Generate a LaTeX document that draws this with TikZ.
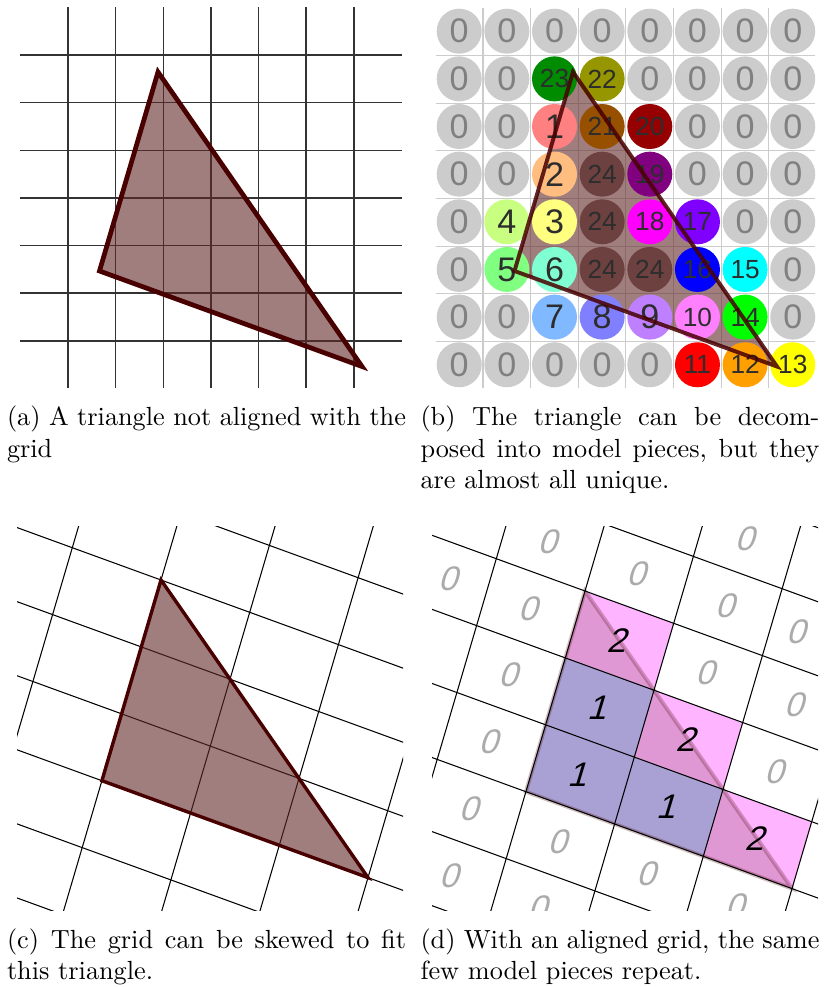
\documentclass[tikz,border=0pt]{standalone}
\usepackage{fontspec}
\newfontfamily\digitfont{Liberation Sans}
\definecolor{trifill}{RGB}{97,40,40}
\definecolor{triline}{RGB}{72,0,0}
\definecolor{zerotext}{RGB}{128,128,128}
\definecolor{piecetext}{RGB}{45,45,45}
\definecolor{c0}{RGB}{204,204,204}
\definecolor{c1}{RGB}{255,128,128}
\definecolor{c2}{RGB}{255,190,128}
\definecolor{c3}{RGB}{255,255,128}
\definecolor{c4}{RGB}{200,255,128}
\definecolor{c5}{RGB}{128,255,128}
\definecolor{c6}{RGB}{128,255,210}
\definecolor{c7}{RGB}{128,185,255}
\definecolor{c8}{RGB}{128,128,255}
\definecolor{c9}{RGB}{190,128,255}
\definecolor{c10}{RGB}{255,128,255}
\definecolor{c11}{RGB}{255,0,0}
\definecolor{c12}{RGB}{255,160,0}
\definecolor{c13}{RGB}{255,255,0}
\definecolor{c14}{RGB}{0,255,0}
\definecolor{c15}{RGB}{0,255,255}
\definecolor{c16}{RGB}{0,0,255}
\definecolor{c17}{RGB}{128,0,255}
\definecolor{c18}{RGB}{255,0,255}
\definecolor{c19}{RGB}{128,0,128}
\definecolor{c20}{RGB}{150,0,0}
\definecolor{c21}{RGB}{150,80,0}
\definecolor{c22}{RGB}{150,150,0}
\definecolor{c23}{RGB}{0,140,0}
\definecolor{c24}{RGB}{110,65,65}
\definecolor{pinkcell}{RGB}{255,180,255}
\definecolor{bluecell}{RGB}{188,190,255}
\begin{document}
\begin{tikzpicture}[x=0.381pt,y=-0.381pt,
  gridline/.style={black!80,line width=.6pt},
  softgrid/.style={black!20,line width=.4pt},
  skewline/.style={black,line width=.4pt},
  tri/.style={fill=trifill,fill opacity=.6,draw=triline,line width=1.8pt},
  disc/.style={circle,minimum size=17.15pt,inner sep=0pt,font=\digitfont\fontsize{13}{13}\selectfont},
  lbl/.style={inner sep=0pt,xslant=.3,font=\digitfont\fontsize{13}{13}\selectfont},
  subcap/.style={text width=152pt,align=justify,inner sep=0pt,anchor=base west}]
 \useasboundingbox (0,0) rectangle (830,987);
 % (a) plain grid
 \foreach \k in {0,...,6}
   {\draw[gridline] ({68+47.65*\k},7) -- ({68+47.65*\k},388);
    \draw[gridline] (20,{55+47.65*\k}) -- (402,{55+47.65*\k});}
 \coordinate (ta) at (158,72);
 \coordinate (la) at (99.5,271);
 \coordinate (ra) at (362,366.5);
 \draw[tri] (ta) -- (la) -- (ra) -- cycle;
 % (b) one piece per cell
 \begin{scope}[shift={(415,0)}]
 \foreach \k in {0,...,6}
   {\draw[softgrid] ({68+47.65*\k},8) -- ({68+47.65*\k},388);
    \draw[softgrid] (20.5,{55.5+47.65*\k}) -- (400,{55.5+47.65*\k});}
 \coordinate (tb) at (158,72);
 \coordinate (lb) at (99.5,271);
 \coordinate (rb) at (362,366.5);
 \end{scope}
 \fill[trifill,fill opacity=.6] (tb) -- (lb) -- (rb) -- cycle;
 \foreach \row [count=\r from 0] in {{0,0,0,0,0,0,0,0},{0,0,23,22,0,0,0,0},
     {0,0,1,21,20,0,0,0},{0,0,2,24,19,0,0,0},{0,4,3,24,18,17,0,0},
     {0,5,6,24,24,16,15,0},{0,0,7,8,9,10,14,0},{0,0,0,0,0,11,12,13}}
   \foreach \n [count=\c from 0] in \row
     \node[disc,fill=c\n] (n\r\c) at ({459.2+47.65*\c},{31.2+47.65*\r})
       {\ifnum\n=0 \color{zerotext}\else\color{piecetext}\fi
        \ifnum\n>9 \fontsize{10}{10}\selectfont\fi\n};
 \draw[triline,draw opacity=.85,line width=1.5pt] (tb) -- (lb) -- (rb) -- cycle;
 % (c) skewed grid
 \begin{scope}
 \clip (17,526) rectangle (403,910);
 \begin{scope}[shift={(161,580)},x={(33.795pt,-12.306pt)},y={(-7.506pt,-25.489pt)}]
  \foreach \i in {-2,...,4} \draw[skewline] (\i,-3) -- (\i,7);
  \foreach \j in {-3,...,6} \draw[skewline] (-3,\j) -- (5,\j);
  \coordinate (tc) at (0,0);
  \coordinate (lc) at (0,3);
  \coordinate (rc) at (3,3);
 \end{scope}
 \end{scope}
 \draw[tri,line width=1.3pt] (tc) -- (lc) -- (rc) -- cycle;
 % (d) repeated pieces
 \begin{scope}
 \clip (432,526) rectangle (818,910);
 \begin{scope}[shift={(585,591)},x={(33.795pt,-12.306pt)},y={(-7.506pt,-25.489pt)}]
  \foreach \i/\j in {0/0,1/1,2/2}
    \fill[pinkcell] (\i,\j) -- ++(1,0) -- ++(0,1) -- ++(-1,0) -- cycle;
  \foreach \i/\j in {0/1,0/2,1/2}
    \fill[bluecell] (\i,\j) -- ++(1,0) -- ++(0,1) -- ++(-1,0) -- cycle;
  \coordinate (td) at (0,0);
  \coordinate (ld) at (0,3);
  \coordinate (rd) at (3,3);
  \filldraw[fill=trifill,fill opacity=.2,draw=triline,draw opacity=.25,line width=1.5pt]
    (td) -- (ld) -- (rd) -- cycle;
  \foreach \i in {-2,...,4} \draw[skewline] (\i,-3) -- (\i,7);
  \foreach \j in {-3,...,6} \draw[skewline] (-3,\j) -- (5,\j);
  \foreach \i/\j/\d in {0/0/2,0/1/1,1/1/2,0/2/1,1/2/1,2/2/2}
    \node[lbl] (m\i\j) at ({\i+.5},{\j+.5}) {\d};
  \foreach \p/\q [count=\k] in {-.5/-.5,-1.4/.5,.5/-.5,-.5/.5,1.5/-1.5,1.5/-.5,
      -.5/1.5,1.5/.5,2.3/-.5,-.5/2.5,2.5/.5,2.5/1.5,-.5/3.5,.5/3.5,1.5/3.5,
      -.5/4.5,.5/4.5,2.5/3.5}
    \node[lbl,text=black!33] (z\k) at (\p,\q) {0};
 \end{scope}
 \end{scope}
 % captions
 \node[subcap] (capa) at (6.5,425.5) {(a) A triangle not aligned with the grid};
 \node[subcap] (capb) at (420,425.5) {(b) The triangle can be decomposed into model pieces, but they are almost all unique.};
 \node[subcap] (capc) at (6.5,948) {(c) The grid can be skewed to fit this triangle.};
 \node[subcap] (capd) at (420,948) {(d) With an aligned grid, the same few model pieces repeat.};
\end{tikzpicture}
\end{document}
